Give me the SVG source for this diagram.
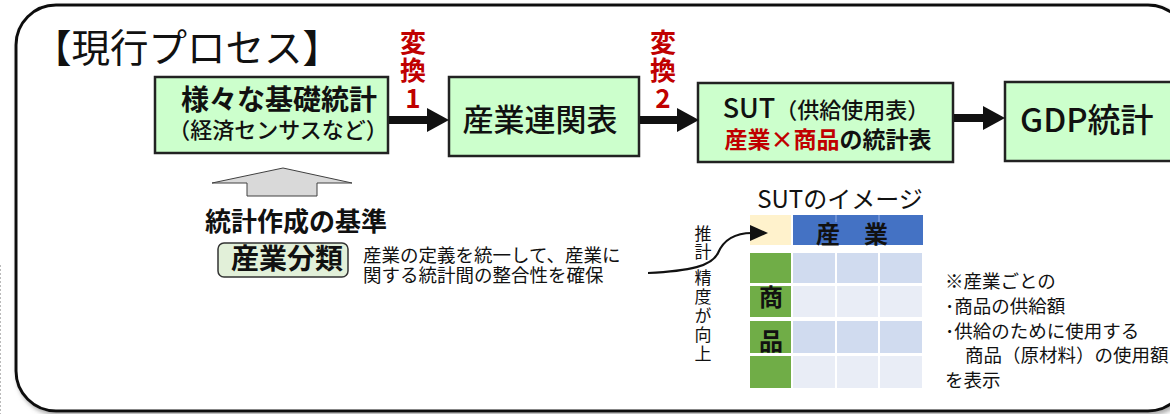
<svg xmlns="http://www.w3.org/2000/svg" width="1170" height="414" viewBox="0 0 1170 414">
<style>
text{font-family:"Noto Sans CJK JP","Noto Sans",sans-serif;fill:#111}
.box{fill:#ccffcc;stroke:#222;stroke-width:2.5}
.red{fill:#c00000;font-weight:bold}
.b{font-weight:bold}
.c{text-anchor:middle}
.v{writing-mode:vertical-rl;text-orientation:upright}
.ln{stroke:#111;stroke-width:8;fill:none}
.hd{fill:#111}
.g{fill:#70ad47}
.r1{fill:#d0dbef}
.r2{fill:#e9edf6}
</style>
<defs>
<filter id="sh" x="-5%" y="-5%" width="110%" height="115%">
<feDropShadow dx="2" dy="3" stdDeviation="2" flood-color="#777" flood-opacity="0.6"/>
</filter>
</defs>
<rect width="1170" height="414" fill="#fff"/>
<line x1="0.5" y1="265" x2="0.5" y2="414" stroke="#bbb" stroke-width="1" stroke-dasharray="2,2"/>
<g id="frame">
<rect x="16" y="5" width="1172" height="406" rx="40" ry="40" fill="#fff" stroke="#111" stroke-width="3" filter="url(#sh)"/>
<text x="33" y="62" font-size="38.5">【現行プロセス】</text>
</g>
<g id="label-henkan1">
<text class="red v" x="413" y="29" font-size="26" letter-spacing="2">変換1</text>
</g>
<g id="label-henkan2">
<text class="red v" x="663" y="29" font-size="26" letter-spacing="2">変換2</text>
</g>
<g id="node-kiso">
<rect class="box" x="155" y="77" width="233" height="76"/>
<text class="c"><tspan class="b" x="279" y="110" font-size="28">様々な基礎統計</tspan><tspan x="278" y="138" font-size="22" font-weight="500">（経済センサスなど）</tspan></text>
</g>
<g id="node-io">
<rect class="box" x="449" y="77" width="190" height="79"/>
<text class="c" x="540" y="131" font-size="31" font-weight="500">産業連関表</text>
</g>
<g id="node-sut">
<rect class="box" x="698" y="83" width="255" height="79"/>
<text class="c"><tspan x="826" y="118" font-weight="500"><tspan font-size="27">SUT</tspan><tspan font-size="22">（供給使用表）</tspan></tspan><tspan x="828" y="148" font-size="23" font-weight="bold"><tspan fill="#c00000">産業×商品</tspan>の統計表</tspan></text>
</g>
<g id="node-gdp">
<rect class="box" x="1005" y="82" width="200" height="79"/>
<text x="1020" y="132" font-size="33" font-weight="500">GDP統計</text>
</g>
<g id="node-kijun">
<text class="b" x="205" y="231" font-size="26">統計作成の基準</text>
</g>
<g id="node-bunrui">
<rect x="218" y="243" width="130" height="34" rx="6" ry="6" fill="#e2f0d9" stroke="#333" stroke-width="1.5"/>
<text class="c b" x="287" y="269" font-size="28">産業分類</text>
<text font-size="18.5"><tspan x="363" y="262">産業の定義を統一して、産業に</tspan><tspan x="363" y="282">関する統計間の整合性を確保</tspan></text>
</g>
<g id="node-suisei" font-size="17">
<text class="v" x="703" y="225" letter-spacing="1">推計</text>
<text class="v" x="703" y="269" letter-spacing="2">精度が向上</text>
</g>
<g id="node-sut-image">
<text class="c" x="840" y="208" font-size="24">SUTのイメージ</text>
<rect x="750" y="215" width="41" height="30" fill="#fff2cc"/>
<rect x="793" y="215" width="130" height="30" fill="#4472c4"/>
<line x1="836" y1="215" x2="836" y2="222" stroke="#7a9ad8" stroke-width="1.5"/>
<line x1="879" y1="215" x2="879" y2="222" stroke="#7a9ad8" stroke-width="1.5"/>
<text class="c b" x="852" y="243" font-size="24">産　業</text>
<rect class="g" x="750" y="253" width="41" height="30"/>
<rect class="g" x="750" y="286" width="41" height="31"/>
<rect class="g" x="750" y="321" width="41" height="32"/>
<rect class="g" x="750" y="356" width="41" height="32"/>
<rect class="r1" x="793" y="253" width="42" height="30"/><rect class="r1" x="837" y="253" width="41" height="30"/><rect class="r1" x="880" y="253" width="42" height="30"/>
<rect class="r2" x="793" y="286" width="42" height="31"/><rect class="r2" x="837" y="286" width="41" height="31"/><rect class="r2" x="880" y="286" width="42" height="31"/>
<rect class="r1" x="793" y="321" width="42" height="32"/><rect class="r1" x="837" y="321" width="41" height="32"/><rect class="r1" x="880" y="321" width="42" height="32"/>
<rect class="r2" x="793" y="356" width="42" height="32"/><rect class="r2" x="837" y="356" width="41" height="32"/><rect class="r2" x="880" y="356" width="42" height="32"/>
<text class="c b" x="771" y="306" font-size="24">商</text>
<text class="c b" x="771" y="350" font-size="24">品</text>
</g>
<g id="node-note" font-size="18.5">
<text><tspan x="945" y="288">※産業ごとの</tspan><tspan x="945" y="313">･商品の供給額</tspan><tspan x="945" y="338">･供給のために使用する</tspan><tspan x="965" y="362">商品（原材料）の使用額</tspan><tspan x="945" y="387">を表示</tspan></text>
</g>
<g id="connectors">
<line class="ln" x1="389" y1="120" x2="429" y2="120"/>
<polygon class="hd" points="427,108 449,120 427,132"/>
<line class="ln" x1="640" y1="120" x2="679" y2="120"/>
<polygon class="hd" points="677,108 699,120 677,132"/>
<line class="ln" x1="954" y1="118" x2="985" y2="118"/>
<polygon class="hd" points="983,106 1005,118 983,130"/>
<polygon points="283,168 352,183 317,183 317,196 247,196 247,183 212,183" fill="#d9d9d9" stroke="#404040" stroke-width="1"/>
<path d="M648 273 C690 271 712 266 718 253 C724 239 735 233 752 233" fill="none" stroke="#111" stroke-width="2.2"/>
<polygon class="hd" points="750,225 768,233 750,241"/>
</g>
</svg>
